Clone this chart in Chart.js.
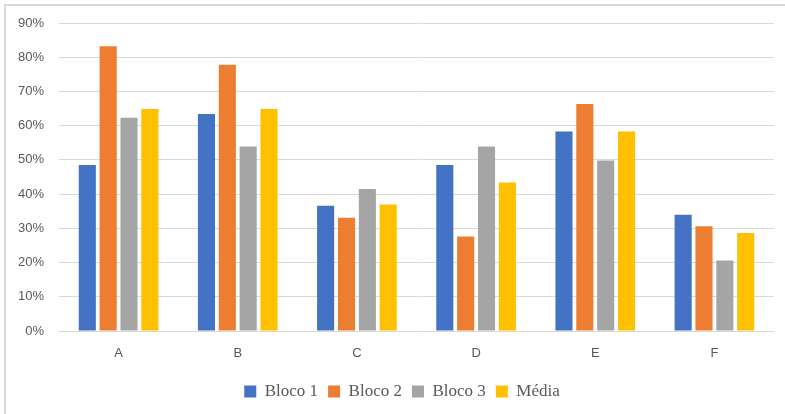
<!DOCTYPE html>
<html>
<head>
<meta charset="utf-8">
<script src="https://cdn.jsdelivr.net/npm/chart.js@4"></script>
<style>
  html, body { margin: 0; padding: 0; background: #fff; }
  #wrap { position: relative; width: 785px; height: 414px; overflow: hidden; background: #fff; }
  #frame { position: absolute; left: 4px; top: 4px; width: 800px; height: 430px; border: 2px solid #d9d9d9; box-sizing: border-box; }
  #c { position: absolute; left: 0; top: 0; }
</style>
</head>
<body>
<div id="wrap">
  <div id="frame"></div>
  <canvas id="c" width="785" height="414"></canvas>
</div>
<script>
const categories = ['A', 'B', 'C', 'D', 'E', 'F'];
const seriesNames = ['Bloco 1', 'Bloco 2', 'Bloco 3', 'Média'];
const bloco1 = [0.485, 0.634, 0.366, 0.485, 0.583, 0.340];
const bloco2 = [0.832, 0.778, 0.331, 0.276, 0.663, 0.306];
const bloco3 = [0.623, 0.539, 0.415, 0.539, 0.498, 0.206];
const media  = [0.649, 0.649, 0.370, 0.434, 0.583, 0.286];
const seriesColors = ['#4472C4', '#ED7D31', '#A5A5A5', '#FFC000'];
const yTickValues = [0, 0.1, 0.2, 0.3, 0.4, 0.5, 0.6, 0.7, 0.8, 0.9];

const allSeries = [bloco1, bloco2, bloco3, media];

const legendShift = {
  id: 'legendShift',
  afterLayout(chart) {
    const lg = chart.legend;
    if (lg) { lg.left += 15; lg.right += 15; }
  }
};

new Chart(document.getElementById('c'), {
  type: 'bar',
  data: {
    labels: categories,
    datasets: allSeries.map((d, i) => ({
      label: seriesNames[i],
      data: d,
      backgroundColor: seriesColors[i],
      borderWidth: 0,
      categoryPercentage: 0.7,
      barPercentage: 0.82
    }))
  },
  options: {
    responsive: false,
    animation: false,
    devicePixelRatio: 1,
    layout: { padding: { left: 0, right: 11, top: 23, bottom: 4 } },
    plugins: {
      tooltip: { enabled: false },
      legend: {
        position: 'bottom',
        labels: {
          boxWidth: 12,
          boxHeight: 12,
          padding: 10,
          color: '#595959',
          font: { family: '"Liberation Serif", "DejaVu Serif", serif', size: 17 }
        }
      }
    },
    scales: {
      x: {
        grid: { display: false, drawTicks: false },
        border: { display: false },
        ticks: {
          color: '#595959',
          padding: 15,
          font: { family: '"Liberation Sans", Arial, sans-serif', size: 13 }
        },
        afterFit(scale) { scale.height = 42; }
      },
      y: {
        min: 0,
        max: 0.9,
        afterBuildTicks(scale) { scale.ticks = yTickValues.map(v => ({ value: v })); },
        grid: { color: '#d9d9d9', lineWidth: 1, drawTicks: false },
        border: { display: false },
        ticks: {
          color: '#595959',
          padding: 15,
          font: { family: '"Liberation Sans", Arial, sans-serif', size: 13 },
          callback: v => Math.round(v * 100) + '%'
        },
        afterFit(scale) { scale.width = 59; }
      }
    }
  },
  plugins: [legendShift]
});
</script>
</body>
</html>
